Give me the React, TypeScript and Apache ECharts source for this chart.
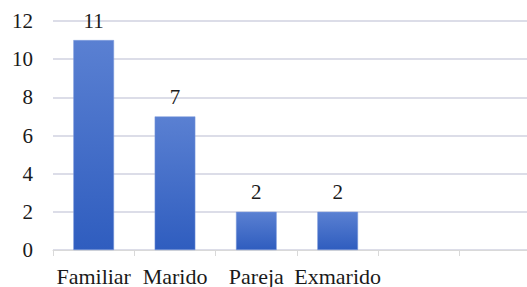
import React, { useEffect, useRef } from "react";
import * as echarts from "echarts";

const categories = ["Familiar", "Marido", "Pareja", "Exmarido", "", ""];
const values = [11, 7, 2, 2, null, null];
const yTicks = { min: 0, max: 12, interval: 2 };

export default function App() {
  const ref = useRef<HTMLDivElement>(null);
  useEffect(() => {
    if (!ref.current) return;
    const chart = echarts.init(ref.current, undefined, { renderer: "svg" });
    const font = "Liberation Serif";
    chart.setOption({
      animation: false,
      textStyle: { fontFamily: font },
      grid: { left: 53, top: 21, right: -14, height: 229, outerBoundsMode: "none" },
      xAxis: {
        type: "category",
        data: categories,
        axisLine: { show: true, lineStyle: { color: "#d9d9d9", width: 1 } },
        axisTick: { show: true, length: 6, lineStyle: { color: "#d9d9d9" } },
        axisLabel: { color: "#1a1a1a", fontSize: 22, fontFamily: font, margin: 15, interval: 0 },
      },
      yAxis: {
        type: "value",
        min: yTicks.min,
        max: yTicks.max,
        interval: yTicks.interval,
        axisLine: { show: false },
        axisTick: { show: false },
        axisLabel: { color: "#1a1a1a", fontSize: 21, fontFamily: font, margin: 20 },
        splitLine: { lineStyle: { color: "#dcdde8", width: 2 } },
      },
      series: [
        {
          type: "bar",
          data: values,
          barWidth: "50%",
          itemStyle: {
            color: new echarts.graphic.LinearGradient(0, 0, 0, 1, [
              { offset: 0, color: "#5a80d2" },
              { offset: 1, color: "#2f5dbf" },
            ]),
            borderColor: "#7f9ddc",
            borderWidth: 0.5,
          },
          label: {
            show: true,
            position: "top",
            distance: 9,
            color: "#1a1a1a",
            fontSize: 21,
            fontFamily: font,
          },
        },
      ],
    });
    return () => chart.dispose();
  }, []);
  return <div ref={ref} style={{ width: 527, height: 287, position: "absolute", left: 0, top: 0, background: "#fff" }} />;
}
